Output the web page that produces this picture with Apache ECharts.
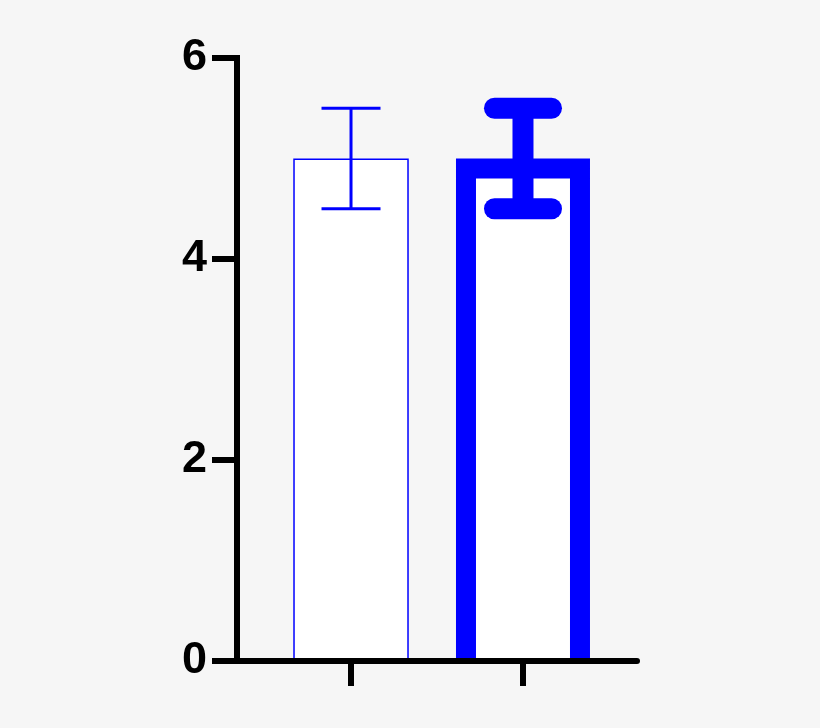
<!DOCTYPE html>
<html>
<head>
<meta charset="utf-8">
<script src="https://cdn.jsdelivr.net/npm/echarts@6/dist/echarts.min.js"></script>
<style>
  html, body { margin: 0; padding: 0; background: #f6f6f6; }
  #chart { width: 820px; height: 728px; }
</style>
</head>
<body>
<div id="chart"></div>
<script>
/* data */
var groups = [0, 1];
var means = [5, 5];
var errors = [0.5, 0.5];
var yTicks = [0, 2, 4, 6];

/* per-bar look: thin outline vs thick outline */
var looks = [
  { border: 1.5, err: 3, cap: 'butt' },
  { border: 20, err: 21, cap: 'round' }
];

var seriesData = [];
for (var i = 0; i < groups.length; i++) {
  seriesData.push([groups[i], means[i], errors[i]]);
}

var chart = echarts.init(document.getElementById('chart'));

function renderBar(params, api) {
  var idx = params.dataIndex;
  var look = looks[idx];
  var x = api.value(0), m = api.value(1), e = api.value(2);
  var base = api.coord([x, 0]);
  var top = api.coord([x, m]);
  var hi = api.coord([x, m + e]);
  var lo = api.coord([x, m - e]);
  var half = 57, capHalf = idx === 0 ? 29.5 : 28.5;
  var c = top[0];
  var yTop = top[1] + look.border / 2;
  var yBot = base[1] - 3;
  var blue = '#0000ff';
  return {
    type: 'group',
    children: [
      {
        type: 'rect',
        shape: { x: c - half, y: yTop, width: half * 2, height: yBot - yTop },
        style: { fill: '#ffffff' }
      },
      {
        type: 'polyline',
        shape: { points: [[c - half, yBot], [c - half, yTop], [c + half, yTop], [c + half, yBot]] },
        style: { fill: 'none', stroke: blue, lineWidth: look.border, lineJoin: 'miter' }
      },
      {
        type: 'line',
        shape: { x1: c, y1: hi[1], x2: c, y2: lo[1] },
        style: { stroke: blue, lineWidth: look.err, lineCap: 'butt' }
      },
      {
        type: 'line',
        shape: { x1: c - capHalf, y1: hi[1], x2: c + capHalf, y2: hi[1] },
        style: { stroke: blue, lineWidth: look.err, lineCap: look.cap }
      },
      {
        type: 'line',
        shape: { x1: c - capHalf, y1: lo[1], x2: c + capHalf, y2: lo[1] },
        style: { stroke: blue, lineWidth: look.err, lineCap: look.cap }
      }
    ]
  };
}

chart.setOption({
  backgroundColor: '#f6f6f6',
  animation: false,
  grid: { left: 237, right: 183, top: 58, bottom: 67 },
  xAxis: {
    type: 'value',
    min: -0.663,
    max: 1.663,
    splitLine: { show: false },
    axisLine: { show: true, onZero: false, lineStyle: { color: '#000', width: 6 } },
    axisTick: { show: true, customValues: groups, length: 25, lineStyle: { color: '#000', width: 6 } },
    axisLabel: { show: false }
  },
  yAxis: {
    type: 'value',
    min: yTicks[0],
    max: yTicks[yTicks.length - 1],
    interval: 2,
    splitLine: { show: false },
    axisLine: { show: true, onZero: false, lineStyle: { color: '#000', width: 6, cap: 'square' } },
    axisTick: { show: true, length: 25, lineStyle: { color: '#000', width: 6 } },
    axisLabel: {
      color: '#000',
      fontSize: 45,
      fontWeight: 'bold',
      fontFamily: 'Liberation Sans',
      margin: 30
    }
  },
  series: [{
    type: 'custom',
    renderItem: renderBar,
    data: seriesData,
    clip: false
  }]
});
</script>
</body>
</html>
